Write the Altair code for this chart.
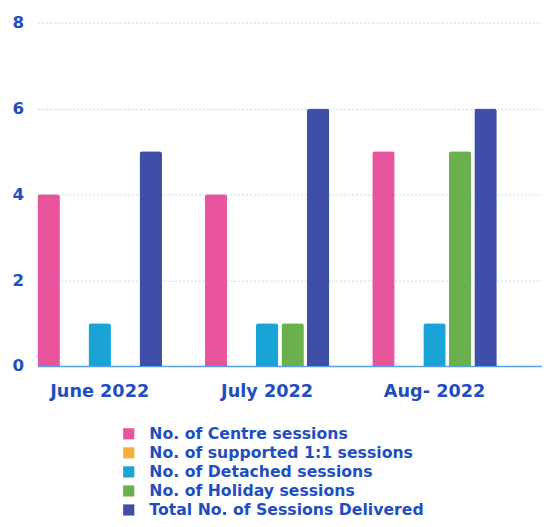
import altair as alt
import pandas as pd

months = ["June 2022", "July 2022", "Aug- 2022"]
series = ["No. of Centre sessions", "No. of supported 1:1 sessions",
          "No. of Detached sessions", "No. of Holiday sessions",
          "Total No. of Sessions Delivered"]
centre = [4, 4, 5]
supported = [0, 0, 0]
detached = [1, 1, 1]
holiday = [0, 1, 5]
total = [5, 6, 6]
colors = ["#e8559c", "#f5ad3f", "#1aa3d6", "#6bb04f", "#3f4ea6"]

rows = []
for i, m in enumerate(months):
    for s, vals in zip(series, [centre, supported, detached, holiday, total]):
        rows.append({"month": m, "series": s, "value": vals[i]})
df = pd.DataFrame(rows)

FONT = "DejaVu Sans"
BLUE = "#1f4fbf"

chart = alt.Chart(df).mark_bar(
    cornerRadiusTopLeft=3, cornerRadiusTopRight=3
).encode(
    x=alt.X("month:N", sort=months, title=None,
            scale=alt.Scale(paddingInner=0.256, paddingOuter=0.135, align=0),
            axis=alt.Axis(labelAngle=0, labelFont=FONT, labelFontSize=18,
                          labelFontWeight="bold", labelColor=BLUE, ticks=False,
                          domainColor="#5aa0e0", domainWidth=1.5,
                          labelPadding=17, labelAlign="center")),
    xOffset=alt.XOffset("series:N", sort=series,
                        scale=alt.Scale(paddingInner=0.12, paddingOuter=0)),
    y=alt.Y("value:Q", title=None,
            scale=alt.Scale(domain=[0, 8]),
            axis=alt.Axis(values=[0, 2, 4, 6, 8], labelFont=FONT, labelFontSize=17,
                          labelFontWeight="bold", labelColor=BLUE, ticks=False,
                          tickSize=0, domain=False, labelAlign="left",
                          labelPadding=26, gridColor="#c9d9ea",
                          gridDash=[2, 2], gridWidth=1)),
    color=alt.Color("series:N", sort=series,
                    scale=alt.Scale(domain=series, range=colors),
                    legend=alt.Legend(title=None, orient="none", legendX=85,
                                      legendY=411, symbolType="square",
                                      symbolSize=130, symbolStrokeWidth=0,
                                      labelFont=FONT, labelFontSize=16,
                                      labelFontWeight="bold", labelColor=BLUE,
                                      rowPadding=3.4, labelOffset=13,
                                      labelLimit=400)),
).properties(
    width=514, height=350,
    padding={"left": 30, "top": 10, "right": 0, "bottom": 151},
    autosize=alt.AutoSizeParams(type="none"),
).configure_view(stroke=None)

chart.save("out.html", embed_options={"renderer": "svg", "actions": False})
